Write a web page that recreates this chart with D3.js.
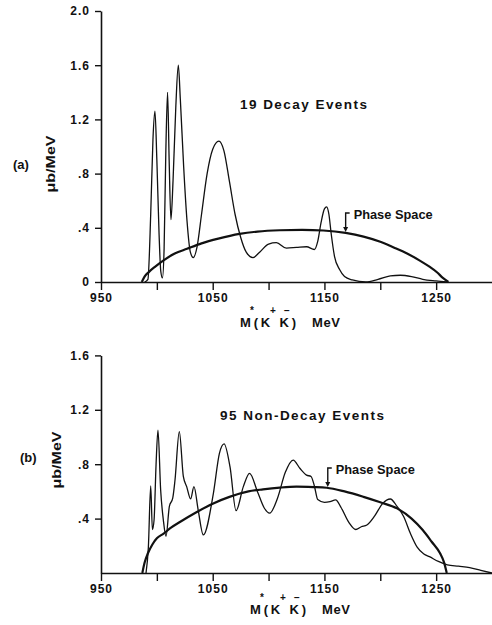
<!DOCTYPE html>
<html>
<head>
<meta charset="utf-8">
<script src="https://cdn.jsdelivr.net/npm/d3@7"></script>
<style>
  body { margin: 0; background: #fff; }
  svg { display: block; }
</style>
</head>
<body>
<div id="chart"></div>
<script>
// K+K- effective mass spectra: (a) decay events, (b) non-decay events
const massTicks = [950, 1000, 1050, 1100, 1150, 1200, 1250];
const massLabels = ["950", "", "1050", "", "1150", "", "1250"];
const topYTicks = [0, 0.4, 0.8, 1.2, 1.6, 2.0];
const topYLabels = ["0", ".4", ".8", "1.2", "1.6", "2.0"];
const botYTicks = [0.4, 0.8, 1.2, 1.6];
const botYLabels = [".4", ".8", "1.2", "1.6"];

// [MeV, µb/MeV]
const decayCurve = [
  [989, 0], [992, 0.02], [994.5, 0.5], [996.5, 1.05], [998.3, 1.26], [1000, 0.9],
  [1002, 0.35], [1003.5, 0.08], [1005, 0.03], [1006.5, 0.25], [1008, 0.95], [1009.6, 1.40],
  [1011, 0.9], [1012.6, 0.46], [1014.5, 0.75], [1017, 1.3], [1019.2, 1.60], [1021, 1.35],
  [1024, 0.85], [1027, 0.45], [1030, 0.22], [1032.6, 0.18], [1036, 0.26], [1040, 0.5],
  [1045, 0.8], [1050, 0.98], [1055.5, 1.04], [1060, 0.97], [1065, 0.74], [1070, 0.5],
  [1075, 0.33], [1080, 0.22], [1086, 0.18], [1092, 0.22], [1100, 0.28], [1107, 0.29],
  [1116, 0.25], [1125, 0.255], [1134, 0.26], [1141, 0.24], [1144, 0.3], [1147, 0.44],
  [1150, 0.54], [1152, 0.555], [1154, 0.5], [1156, 0.36], [1159, 0.19], [1163.7, 0.09],
  [1168, 0.04], [1175, 0.015], [1187, 0], [1198, 0.02], [1209, 0.045], [1218, 0.05],
  [1228, 0.04], [1238, 0.02], [1250, 0.008], [1260, 0]
];
const decayPhase = [
  [986.5, 0], [989, 0.04], [993, 0.075], [998, 0.11], [1006, 0.16], [1016, 0.21],
  [1027, 0.245], [1040, 0.285], [1055, 0.32], [1074, 0.355], [1090, 0.372], [1110, 0.382],
  [1130, 0.385], [1149, 0.38], [1169, 0.362], [1185, 0.335], [1200, 0.297], [1212, 0.255],
  [1224, 0.21], [1235, 0.16], [1244, 0.113], [1251, 0.07], [1256, 0.03], [1261, 0]
];
const nonDecayCurve = [
  [990.3, 0], [992.4, 0.19], [994.5, 0.64], [996, 0.32], [997.5, 0.39], [999.3, 0.8],
  [1001, 1.05], [1003.4, 0.61], [1005.8, 0.39], [1008.2, 0.27], [1011.2, 0.49], [1014.2, 0.55],
  [1016.2, 0.68], [1020.1, 1.04], [1023.7, 0.71], [1026.7, 0.635], [1030.2, 0.545], [1033.2, 0.635],
  [1037, 0.463], [1041.6, 0.28], [1050.6, 0.586], [1056, 0.88], [1060.2, 0.95], [1065.5, 0.78],
  [1070.9, 0.458], [1077.4, 0.635], [1083, 0.733], [1090, 0.6], [1096, 0.48], [1101, 0.44],
  [1108, 0.55], [1115, 0.74], [1122, 0.83], [1128, 0.77], [1134, 0.72], [1138, 0.71],
  [1141, 0.64], [1144, 0.54], [1150, 0.52], [1155, 0.525], [1160, 0.537], [1165, 0.48],
  [1172, 0.37], [1178, 0.32], [1183, 0.34], [1188, 0.353], [1195, 0.42], [1202, 0.51],
  [1209, 0.544], [1215, 0.49], [1221, 0.414], [1227, 0.29], [1233, 0.19], [1239, 0.14],
  [1244, 0.12], [1252, 0.085], [1260, 0.06], [1270, 0.05], [1280, 0.04], [1290, 0.02], [1300, 0]
];
const nonDecayPhase = [
  [987, 0], [989, 0.075], [992, 0.145], [996, 0.21], [1000, 0.255], [1006, 0.29],
  [1013, 0.335], [1021, 0.377], [1035, 0.445], [1050, 0.51], [1065, 0.56], [1082, 0.6],
  [1095, 0.615], [1110, 0.628], [1125, 0.635], [1140, 0.632], [1152, 0.627], [1168, 0.6],
  [1185, 0.56], [1200, 0.52], [1215, 0.475], [1228, 0.4], [1238, 0.316], [1246, 0.23],
  [1253.5, 0.145], [1257, 0.08], [1259.5, 0]
];

const width = 492, height = 625;
const font = "'Liberation Sans', Arial, sans-serif";

const svg = d3.select("#chart").append("svg")
  .attr("width", width)
  .attr("height", height)
  .style("background", "#fff");

const x = d3.scaleLinear().domain([950, 1300]).range([101, 492]);

function lerp(data, m) {
  for (let i = 1; i < data.length; i++) {
    if (data[i][0] >= m) {
      const a = data[i - 1], b = data[i];
      return a[1] + (b[1] - a[1]) * (m - a[0]) / (b[0] - a[0]);
    }
  }
  return 0;
}

function panel(p) {
  const y = d3.scaleLinear().domain([0, p.yMax]).range([p.base, p.top]);
  const g = svg.append("g");

  const yAxis = g.append("g")
    .attr("transform", `translate(${x(950)},0)`)
    .call(d3.axisLeft(y).tickValues(p.yTicks)
      .tickFormat((d, i) => p.yLabels[i]).tickSize(6).tickSizeOuter(0).tickPadding(5));

  const xAxis = g.append("g")
    .attr("transform", `translate(0,${p.base})`)
    .call(d3.axisBottom(x).tickValues(massTicks)
      .tickFormat((d, i) => massLabels[i]).tickSize(8).tickSizeOuter(0).tickPadding(3));

  [yAxis, xAxis].forEach(a => {
    a.select(".domain").attr("stroke", "#111").attr("stroke-width", 1.6);
    a.selectAll(".tick line").attr("stroke", "#111").attr("stroke-width", 1.4);
    a.selectAll("text")
      .attr("fill", "#111")
      .style("font-family", font)
      .style("font-size", "12px")
      .style("font-weight", "bold")
      .style("letter-spacing", "1px");
  });

  const line = d3.line()
    .x(d => x(d[0]))
    .y(d => y(d[1]))
    .curve(d3.curveMonotoneX);

  g.append("path")
    .datum(p.phase)
    .attr("fill", "none")
    .attr("stroke", "#111")
    .attr("stroke-width", 2.2)
    .attr("d", line);

  g.append("path")
    .datum(p.curve)
    .attr("fill", "none")
    .attr("stroke", "#111")
    .attr("stroke-width", 1.3)
    .attr("stroke-linejoin", "round")
    .attr("d", line);

  // "Phase Space" pointer
  const ax = x(p.arrowAt);
  const ay = y(lerp(p.phase, p.arrowAt));
  const top = ay - 20;
  g.append("path")
    .attr("d", `M${ax + 4},${top} H${ax} V${ay - 4}`)
    .attr("fill", "none")
    .attr("stroke", "#111")
    .attr("stroke-width", 1.4);
  g.append("path")
    .attr("d", `M${ax - 2.5},${ay - 6} L${ax + 2.5},${ay - 6} L${ax},${ay - 1} Z`)
    .attr("fill", "#111");
  g.append("text")
    .attr("x", ax + 8)
    .attr("y", top + 6)
    .attr("textLength", 79)
    .attr("lengthAdjust", "spacingAndGlyphs")
    .style("font-family", font)
    .style("font-size", "12px")
    .style("font-weight", "bold")
    .attr("fill", "#111")
    .text("Phase Space");

  // title
  g.append("text")
    .attr("x", p.titleX)
    .attr("y", p.titleY)
    .attr("textLength", p.titleLen)
    .attr("lengthAdjust", "spacing")
    .style("font-family", font)
    .style("font-size", "13.5px")
    .style("font-weight", "bold")
    .attr("fill", "#111")
    .text(p.title);

  // panel tag and unit
  g.append("text")
    .attr("x", p.tagX)
    .attr("y", p.tagY)
    .style("font-family", font)
    .style("font-size", "13px")
    .style("font-weight", "bold")
    .attr("fill", "#111")
    .text(p.tag);

  g.append("text")
    .attr("transform", `translate(${p.unitX},${p.unitY}) rotate(-90)`)
    .attr("text-anchor", "middle")
    .attr("dy", "0.35em")
    .attr("textLength", 57)
    .attr("lengthAdjust", "spacingAndGlyphs")
    .style("font-family", font)
    .style("font-size", "12.5px")
    .style("font-weight", "bold")
    .attr("fill", "#111")
    .text("\u03bcb/MeV");

  // axis title M*(K+K-) MeV
  const lx = p.labelX, ly = p.labelY;
  const t = g.append("g")
    .attr("fill", "#111")
    .style("font-family", font)
    .style("font-weight", "bold");
  t.append("text").attr("x", lx).attr("y", ly)
    .attr("textLength", 56).attr("lengthAdjust", "spacing")
    .style("font-size", "13px").text("M(K K)");
  t.append("text").attr("x", lx + 72).attr("y", ly)
    .attr("textLength", 28).attr("lengthAdjust", "spacing")
    .style("font-size", "13px").text("MeV");
  [["*", 12], ["+", 33], ["\u2212", 47]].forEach(([s, dx]) => {
    t.append("text").attr("x", lx + dx).attr("y", ly - 13.5)
      .attr("text-anchor", "middle")
      .style("font-size", "10px").text(s);
  });
}

panel({
  yMax: 2, base: 282, top: 11,
  yTicks: topYTicks, yLabels: topYLabels,
  curve: decayCurve, phase: decayPhase, arrowAt: 1169,
  title: "19 Decay Events", titleX: 240, titleY: 109, titleLen: 127,
  tag: "(a)", tagX: 13, tagY: 169, unitX: 51, unitY: 164,
  labelX: 240, labelY: 327
});

panel({
  yMax: 1.6, base: 573, top: 355.4,
  yTicks: botYTicks, yLabels: botYLabels,
  curve: nonDecayCurve, phase: nonDecayPhase, arrowAt: 1153,
  title: "95 Non-Decay Events", titleX: 220, titleY: 420, titleLen: 164,
  tag: "(b)", tagX: 20, tagY: 462, unitX: 57, unitY: 460,
  labelX: 250, labelY: 614
});
</script>
</body>
</html>
